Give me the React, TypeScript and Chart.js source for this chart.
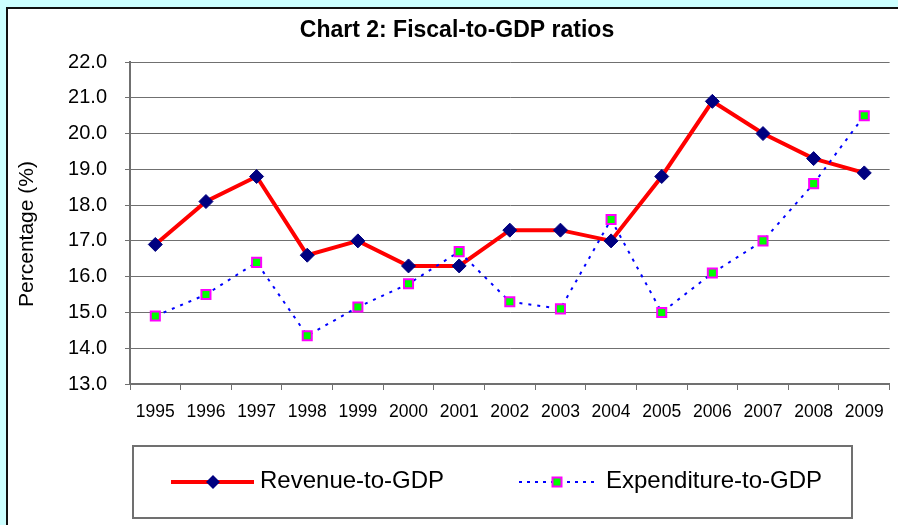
import React, { useEffect, useRef } from "react";
import { Chart, registerables } from "chart.js";

Chart.register(...registerables);

const years = ["1995","1996","1997","1998","1999","2000","2001","2002","2003","2004","2005","2006","2007","2008","2009"];
const revenue = [16.9, 18.1, 18.8, 16.6, 17.0, 16.3, 16.3, 17.3, 17.3, 17.0, 18.8, 20.9, 20.0, 19.3, 18.9];
const expenditure = [14.9, 15.5, 16.4, 14.35, 15.15, 15.8, 16.7, 15.3, 15.1, 17.6, 15.0, 16.1, 17.0, 18.6, 20.5];
const titleText = "Chart 2: Fiscal-to-GDP ratios";
const yTitle = "Percentage (%)";
const seriesNames = ["Revenue-to-GDP", "Expenditure-to-GDP"];

const FONT = "'Liberation Sans', Arial, sans-serif";

function drawDiamond(ctx: CanvasRenderingContext2D, x: number, y: number, r: number) {
  ctx.save();
  ctx.fillStyle = "#000080";
  ctx.beginPath();
  ctx.moveTo(x, y - r);
  ctx.lineTo(x + r, y);
  ctx.lineTo(x, y + r);
  ctx.lineTo(x - r, y);
  ctx.closePath();
  ctx.fill();
  ctx.restore();
}

function drawSquare(ctx: CanvasRenderingContext2D, x: number, y: number, s: number) {
  ctx.save();
  ctx.fillStyle = "#00ff00";
  ctx.strokeStyle = "#ff00ff";
  ctx.lineWidth = 2;
  ctx.fillRect(x - s / 2, y - s / 2, s, s);
  ctx.strokeRect(x - s / 2, y - s / 2, s, s);
  ctx.restore();
}

const decorPlugin = {
  id: "decor",
  afterDraw(chart: any) {
    const ctx: CanvasRenderingContext2D = chart.ctx;
    ctx.save();
    // Title
    ctx.fillStyle = "#000";
    ctx.font = `bold 23px ${FONT}`;
    ctx.textAlign = "center";
    ctx.textBaseline = "alphabetic";
    ctx.fillText(titleText, 457, 37);

    // Y title
    ctx.save();
    ctx.translate(33, 234);
    ctx.rotate(-Math.PI / 2);
    ctx.font = `21px ${FONT}`;
    ctx.textAlign = "center";
    ctx.fillText(yTitle, 0, 0);
    ctx.restore();

    // Legend box
    ctx.fillStyle = "#fff";
    ctx.fillRect(133, 446, 719, 72);
    ctx.strokeStyle = "#707070";
    ctx.lineWidth = 2;
    ctx.strokeRect(133, 446, 719, 72);

    const ly = 482;
    // Revenue sample
    ctx.strokeStyle = "#ff0000";
    ctx.lineWidth = 4;
    ctx.beginPath();
    ctx.moveTo(171, ly);
    ctx.lineTo(254, ly);
    ctx.stroke();
    drawDiamond(ctx, 213, ly, 7);

    // Expenditure sample
    ctx.strokeStyle = "#0000ff";
    ctx.lineWidth = 2;
    ctx.setLineDash([3, 5]);
    ctx.beginPath();
    ctx.moveTo(519, ly);
    ctx.lineTo(594, ly);
    ctx.stroke();
    ctx.setLineDash([]);
    drawSquare(ctx, 557, ly, 9);

    ctx.fillStyle = "#000";
    ctx.font = `24px ${FONT}`;
    ctx.textAlign = "left";
    ctx.fillText(seriesNames[0], 260, 488);
    ctx.fillText(seriesNames[1], 606, 488);
    ctx.restore();
  },
};

export default function App() {
  const ref = useRef<HTMLCanvasElement | null>(null);
  useEffect(() => {
    if (!ref.current) return;
    const chart = new Chart(ref.current, {
      type: "line",
      data: {
        labels: years,
        datasets: [
          {
            label: seriesNames[0],
            data: revenue,
            borderColor: "#ff0000",
            borderWidth: 4,
            pointStyle: "rectRot",
            pointRadius: 7,
            pointBackgroundColor: "#000080",
            pointBorderColor: "#000080",
            pointBorderWidth: 1,
            tension: 0,
            order: 1,
          },
          {
            label: seriesNames[1],
            data: expenditure,
            borderColor: "#0000ff",
            borderWidth: 2,
            borderDash: [3, 6],
            pointStyle: "rect",
            pointRadius: 6.4,
            pointBackgroundColor: "#00ff00",
            pointBorderColor: "#ff00ff",
            pointBorderWidth: 2,
            tension: 0,
            order: 0,
          },
        ],
      },
      options: {
        animation: false,
        responsive: false,
        maintainAspectRatio: false,
        layout: { padding: { left: 0, top: 62, right: 6, bottom: 0 } },
        plugins: {
          legend: { display: false },
          title: { display: false },
          tooltip: { enabled: false },
        },
        scales: {
          x: {
            type: "category",
            offset: true,
            grid: {
              display: true,
              offset: true,
              drawOnChartArea: false,
              drawTicks: true,
              tickLength: 6,
              color: "#707070",
              lineWidth: 1,
            },
            border: { display: true, color: "#707070", width: 2 },
            ticks: {
              color: "#000",
              font: { family: FONT, size: 17.5 },
              padding: 12,
              maxRotation: 0,
              autoSkip: false,
            },
            afterFit(scale: any) {
              scale.height = 141;
            },
          },
          y: {
            min: 13,
            max: 22,
            grid: {
              color: "#707070",
              lineWidth: 1,
              tickLength: 5,
              drawTicks: true,
            },
            border: { display: true, color: "#707070", width: 2 },
            ticks: {
              stepSize: 1,
              color: "#000",
              font: { family: FONT, size: 20 },
              padding: 18,
              callback: (v: any) => Number(v).toFixed(1),
            },
            afterFit(scale: any) {
              scale.width = 130;
            },
          },
        },
      },
      plugins: [decorPlugin],
    });
    return () => chart.destroy();
  }, []);

  return (
    <div style={{ position: "fixed", left: 0, top: 0, width: 898, height: 525, background: "#ccffff", overflow: "hidden" }}>
      <div
        style={{
          position: "absolute",
          left: 6,
          top: 7,
          width: 960,
          height: 560,
          background: "#ffffff",
          border: "2px solid #111",
        }}
      />
      <canvas ref={ref} width={898} height={525} style={{ position: "absolute", left: 0, top: 0, width: 898, height: 525 }} />
    </div>
  );
}
